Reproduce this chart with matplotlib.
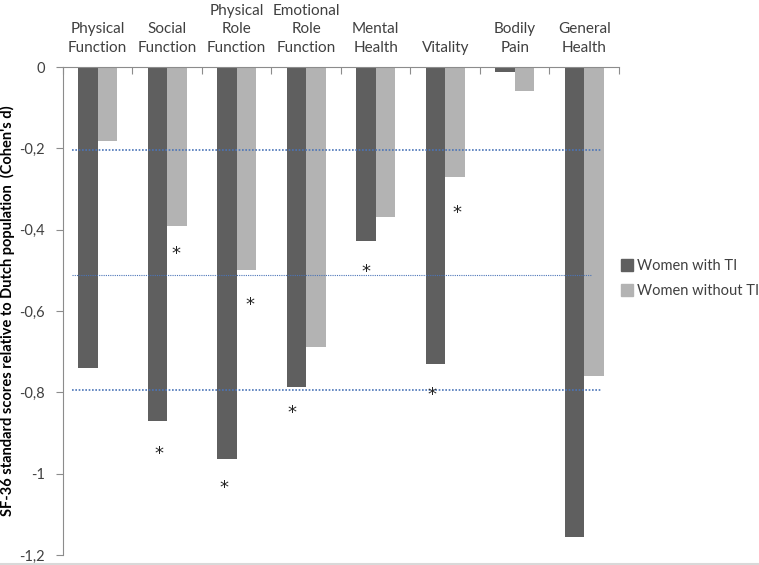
import matplotlib
matplotlib.use("Agg")
import matplotlib.pyplot as plt
from matplotlib.lines import Line2D

plt.rcParams['font.family'] = ['Lato', 'DejaVu Sans']

# data
categories = ["Physical\nFunction", "Social\nFunction", "Physical\nRole\nFunction",
              "Emotional\nRole\nFunction", "Mental\nHealth", "Vitality",
              "Bodily\nPain", "General\nHealth"]
with_ti = [-0.74, -0.87, -0.965, -0.787, -0.428, -0.73, -0.012, -1.155]
without_ti = [-0.182, -0.391, -0.499, -0.688, -0.369, -0.271, -0.059, -0.759]

# significance asterisks: (category index, horizontal offset, value)
star_cat = [1, 1, 2, 2, 3, 4, 5, 5]
star_off = [-0.12, 0.12, -0.18, 0.19, -0.2, -0.14, 0.165, -0.19]
star_val = [-0.945, -0.455, -1.03, -0.58, -0.845, -0.497, -0.353, -0.80]

# effect size reference lines (small / medium / large)
ref_levels = [-0.205, -0.511, -0.795]
ref_widths = [1.2, 0.8, 1.2]
ref_ends = [7.74, 7.61, 7.74]

yticks = [0, -0.2, -0.4, -0.6, -0.8, -1.0, -1.2]
ytick_labels = ["0", "-0,2", "-0,4", "-0,6", "-0,8", "-1", "-1,2"]

dark = "#5f5f5f"
light = "#b3b3b3"
axis_grey = "#8c8c8c"
text_grey = "#404040"

fig = plt.figure(figsize=(7.59, 5.65), dpi=100)
ax = fig.add_axes([0.083, 0.0177, 0.7325, 0.8637])

x = [i + 0.5 for i in range(len(categories))]
w = 0.28
ax.bar([v - w / 2 for v in x], with_ti, width=w, color=dark, label="Women with TI", zorder=2)
ax.bar([v + w / 2 for v in x], without_ti, width=w, color=light, label="Women without TI", zorder=2)

for lvl, lw, end in zip(ref_levels, ref_widths, ref_ends):
    ax.plot([0.13, end], [lvl, lvl], ls=(0, (1, 1)), color="#4a74b8", lw=lw, zorder=3)

for c, o, v in zip(star_cat, star_off, star_val):
    ax.text(c + 0.5 + o, v - 0.006, "*", ha="center", va="center", fontsize=13, color="#222222",
            family="DejaVu Sans", zorder=4)

ax.set_xlim(0, 8)
ax.set_ylim(-1.2, 0)

ax.set_yticks(yticks)
ax.set_yticklabels(ytick_labels, fontsize=10.5, color=text_grey)
ax.set_xticks(range(9))
ax.set_xticklabels([])
ax.tick_params(axis="y", direction="out", length=5, color=axis_grey, pad=8)

for s in ["right", "bottom"]:
    ax.spines[s].set_visible(False)
ax.spines["left"].set_color(axis_grey)
ax.spines["top"].set_color(axis_grey)
ax.xaxis.set_ticks_position("top")
ax.tick_params(axis="x", direction="in", length=5, color=axis_grey)

for xi, lab in zip(x, categories):
    ax.text(xi, 1.025, lab, transform=ax.get_xaxis_transform(), ha="center", va="bottom",
            fontsize=11, color=text_grey, linespacing=1.4)

ax.set_ylabel("SF-36 standard scores relative to Dutch population  (Cohen's d)",
              fontsize=10.5, fontweight="bold", color="black")
ax.yaxis.set_label_coords(-0.087, 0.5)

handles = [Line2D([], [], marker="s", ls="", color=dark, markersize=8),
           Line2D([], [], marker="s", ls="", color=light, markersize=8)]
fig.legend(handles, ["Women with TI", "Women without TI"], loc="center left",
           bbox_to_anchor=(0.797, 0.507), frameon=False, fontsize=10.5,
           handletextpad=0.1, handlelength=1.2, labelspacing=0.8, labelcolor=text_grey)

fig.add_artist(Line2D([0, 1], [0.002, 0.002], color="#d9d9d9", lw=1.5))

fig.savefig("out.png", dpi=100)
